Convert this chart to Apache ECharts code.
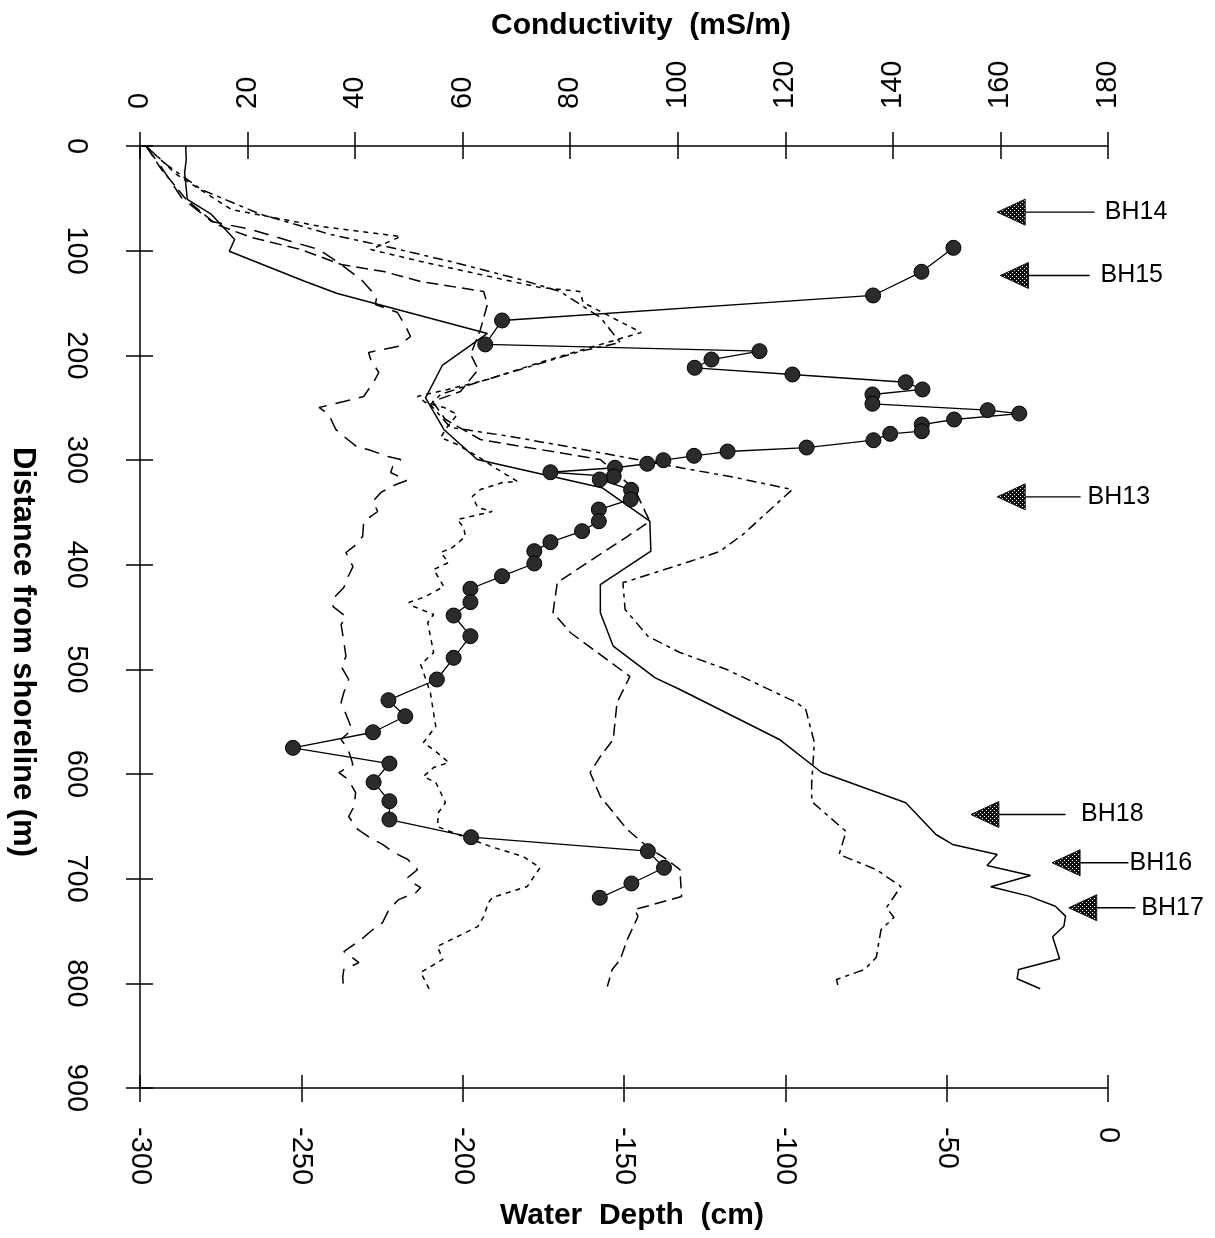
<!DOCTYPE html>
<html>
<head>
<meta charset="utf-8">
<script src="https://cdn.jsdelivr.net/npm/echarts@6/dist/echarts.min.js"></script>
<style>
  html, body { margin: 0; padding: 0; background: #fff; }
  #chart { width: 1215px; height: 1238px; }
</style>
</head>
<body>
<div id="chart"></div>
<script>
// ---- Conductivity profiles along the transect (distance in m, conductivity in mS/m) ----
var solidDist = [0, 12.9, 25.6, 51.1, 65.4, 89.3, 100.5, 129.2, 140.9, 179.1, 209.7, 240.6, 270.8, 299.5, 326.5, 358.5, 387.1, 419.0, 446.0, 477.9, 508.1, 519.3, 528.8, 567.0, 598.3, 627.5, 657.8, 667.3, 677.0, 687.5, 697.0, 707.8, 716.7, 726.3, 735.8, 745.4, 755.5, 776.5, 786.7, 795.6, 805.2];
var solidCond = [8.5, 8.6, 8.3, 8.8, 13.3, 17.6, 16.6, 30.6, 36.7, 64.6, 56.2, 53.1, 56.5, 62.7, 85.9, 94.8, 95.0, 85.6, 85.6, 88.0, 95.8, 100.4, 104.1, 118.9, 126.7, 142.4, 148.0, 151.1, 159.4, 157.5, 165.6, 158.2, 165.3, 170.2, 172.1, 171.8, 169.7, 171.0, 163.4, 163.1, 167.4];

var dashDotDist = [0.5, 17.7, 41.6, 65.4, 84.6, 97.0, 110.3, 127.5, 139.0, 163.8, 187.7, 196.3, 213.5, 227.8, 237.4, 247.0, 268.9, 277.5, 287.1, 296.6, 309.0, 315.7, 328.2, 371.2, 387.4, 397.0, 414.2, 417.1, 442.9, 468.6, 483.9, 500.2, 531.7, 538.4, 569.9, 608.1, 626.3, 654.9, 676.9, 691.3, 707.5, 727.6, 737.1, 748.6, 775.4, 786.8, 796.4, 805.9];
var dashDotCond = [1.2, 4.9, 11.4, 22.5, 35.5, 46.6, 57.7, 70.7, 78.1, 85.6, 89.3, 81.8, 70.7, 61.5, 55.9, 54.0, 57.7, 68.9, 79.4, 89.3, 102.2, 109.7, 121.3, 112.1, 107.8, 102.2, 91.7, 89.8, 90.2, 94.5, 100.4, 109.1, 122.1, 123.8, 125.4, 124.9, 124.9, 131.3, 130.0, 136.9, 141.5, 138.8, 140.2, 137.8, 136.9, 134.7, 129.5, 130.0];

var dashDist = [0.5, 22.5, 51.1, 75.0, 87.4, 98.9, 113.2, 119.9, 129.5, 139.0, 151.4, 175.3, 199.2, 213.5, 234.5, 244.1, 261.3, 280.4, 290.0, 299.5, 328.2, 358.7, 373.1, 417.0, 445.7, 464.8, 506.8, 531.7, 567.0, 583.3, 598.6, 621.5, 653.0, 669.3, 681.7, 691.3, 717.0, 724.7, 729.5, 736.2, 758.2, 777.3, 786.8, 803.1];
var dashCond = [1.2, 4.0, 8.6, 14.2, 20.7, 29.9, 37.4, 45.3, 52.2, 63.9, 64.6, 63.3, 61.5, 62.9, 59.6, 54.4, 56.8, 63.3, 74.4, 85.6, 92.0, 94.8, 90.6, 77.6, 76.8, 80.0, 91.1, 88.7, 88.0, 85.6, 83.7, 85.6, 90.6, 94.3, 98.0, 100.4, 100.7, 95.4, 92.0, 92.6, 90.6, 89.3, 87.8, 86.9];

var dotDist = [0.5, 27.2, 60.7, 76.9, 86.5, 98.9, 110.3, 122.8, 135.2, 139.0, 149.5, 178.2, 191.6, 206.8, 223.1, 232.6, 239.3, 245.1, 249.8, 256.5, 268.0, 278.5, 285.2, 296.6, 309.0, 320.5, 321.5, 328.2, 334.9, 345.4, 349.2, 356.9, 364.5, 373.1, 383.6, 388.4, 397.9, 404.6, 420.9, 430.4, 436.2, 440.0, 447.6, 455.3, 484.0, 495.4, 522.2, 535.5, 554.6, 569.9, 578.5, 589.0, 593.8, 602.4, 608.1, 627.2, 636.8, 650.2, 655.0, 669.3, 678.9, 689.4, 707.5, 718.1, 722.8, 736.2, 745.8, 764.7, 777.1, 789.6, 807.7];
var dotCond = [1.2, 6.8, 17.0, 33.6, 48.5, 42.9, 52.2, 63.3, 74.4, 81.8, 82.4, 93.2, 84.3, 74.4, 64.6, 57.2, 51.6, 53.1, 56.5, 59.0, 57.2, 55.9, 59.0, 62.8, 66.5, 70.2, 67.4, 63.3, 61.8, 62.8, 65.5, 59.0, 60.2, 60.5, 58.1, 55.9, 57.4, 54.6, 56.5, 53.1, 50.0, 50.9, 54.6, 53.5, 54.6, 52.2, 54.0, 54.4, 55.0, 52.7, 55.0, 57.4, 54.6, 52.7, 55.0, 56.8, 55.5, 55.3, 57.7, 65.2, 71.3, 74.4, 72.0, 65.5, 64.8, 63.9, 62.8, 55.3, 56.3, 52.2, 54.0];

var longDashDist = [0.5, 20.5, 49.2, 72.1, 79.8, 91.2, 98.9, 113.2, 127.5, 143.8, 151.4, 159.1, 172.5, 182.0, 191.6, 197.3, 204.0, 216.4, 225.0, 239.3, 244.1, 249.8, 256.5, 270.8, 277.5, 288.0, 289.9, 296.6, 299.5, 306.2, 311.9, 319.6, 323.4, 331.0, 339.6, 349.2, 358.7, 373.1, 382.6, 388.4, 401.8, 411.3, 421.8, 431.4, 440.0, 449.5, 457.2, 473.4, 487.7, 497.3, 509.7, 522.2, 531.7, 547.9, 557.5, 567.0, 576.6, 590.9, 598.6, 605.3, 617.7, 631.1, 640.6, 653.0, 659.7, 667.3, 675.0, 681.7, 691.3, 698.9, 702.7, 708.5, 713.3, 720.0, 729.5, 741.9, 748.6, 758.2, 769.6, 774.4, 780.2, 786.8, 793.5, 808.7];
var longDashCond = [1.2, 4.0, 7.7, 13.3, 20.7, 28.1, 33.3, 37.4, 41.1, 44.0, 43.8, 47.9, 49.4, 50.3, 47.9, 42.5, 42.9, 44.4, 43.5, 41.6, 37.9, 33.3, 35.1, 36.4, 37.9, 40.5, 42.4, 46.1, 48.5, 47.0, 46.6, 49.6, 47.6, 44.8, 43.3, 44.2, 41.6, 41.4, 39.8, 38.3, 39.6, 38.7, 37.9, 36.1, 35.9, 38.3, 37.4, 37.9, 38.3, 37.4, 38.8, 37.9, 37.4, 38.7, 39.4, 37.4, 38.7, 39.6, 37.0, 38.7, 40.1, 39.8, 38.8, 40.5, 42.4, 45.1, 47.2, 49.8, 51.6, 49.8, 50.3, 52.2, 51.3, 48.1, 46.3, 45.1, 43.3, 41.1, 37.9, 39.2, 40.7, 37.9, 37.7, 37.9];

// ---- Water depth at the measuring points (distance in m, depth in cm) ----
var depthDist = [97.3, 120.2, 142.8, 166.7, 189.6, 196.0, 204.0, 211.9, 218.3, 225.7, 232.6, 237.4, 246.3, 252.4, 255.6, 261.3, 266.1, 272.5, 275.0, 281.1, 288.1, 291.9, 296.0, 300.2, 303.6, 307.4, 311.7, 315.8, 318.6, 328.5, 337.7, 347.3, 358.5, 368.0, 378.5, 387.1, 398.9, 411.0, 423.0, 435.8, 448.6, 468.3, 489.0, 509.7, 529.5, 544.8, 560.1, 575.0, 590.0, 607.8, 626.0, 643.5, 660.4, 673.7, 689.6, 704.6, 718.3];
var depthVal = [-47.9, -57.8, -72.8, -187.8, -193.0, -108.0, -122.9, -128.1, -97.8, -62.7, -57.5, -73.0, -73.0, -37.3, -27.5, -47.7, -57.7, -57.7, -67.5, -72.7, -93.4, -117.9, -128.3, -137.8, -142.8, -152.8, -172.8, -153.2, -157.5, -147.8, -147.9, -157.8, -157.8, -163.0, -172.8, -177.8, -177.8, -187.8, -197.6, -197.6, -202.8, -197.6, -202.8, -208.0, -223.0, -217.8, -227.8, -252.6, -222.7, -227.6, -222.7, -222.7, -197.4, -142.6, -137.6, -147.7, -157.5];

// ---- Borehole markers (distance in m; arrow tip, tail and label on the mS/m scale) ----
var boreNames = ['BH14', 'BH15', 'BH13', 'BH18', 'BH16', 'BH17'];
var boreDist = [63.2, 123.7, 335.2, 638.7, 684.8, 727.8];
var boreTip = [159.4, 160.0, 159.4, 154.5, 169.6, 172.7];
var boreTail = [177.5, 176.6, 174.9, 172.1, 183.8, 185.1];
var boreLabel = [179.4, 178.6, 176.2, 175.0, 184.0, 186.2];

// ---- Axis ticks ----
var condTicks = { min: 0, max: 180, step: 20 };
var depthTicks = { min: -300, max: 0, step: 50 };
var distTicks = { min: 0, max: 900, step: 100 };

function pairs(xs, ys) {
  return xs.map(function (x, i) { return [x, ys[i]]; });
}

// stippled fill for the arrowheads
function stipple() {
  var c = document.createElement('canvas');
  c.width = 4; c.height = 4;
  var g = c.getContext('2d');
  g.fillStyle = '#111';
  g.fillRect(0, 0, 4, 4);
  g.fillStyle = '#fff';
  g.fillRect(0, 0, 1, 1);
  g.fillRect(2, 2, 1, 1);
  return { image: c, repeat: 'repeat' };
}
var stippleFill = stipple();

var FONT = '"Liberation Sans", Arial, Helvetica, sans-serif';
var black = '#000';
var tickLabel = { fontFamily: FONT, fontSize: 29, color: black, rotate: -90 };

function mainAxis(extra) {
  return Object.assign({
    type: 'value',
    gridIndex: 0,
    axisLine: { show: true, onZero: false, lineStyle: { color: black, width: 1.5 } },
    axisTick: { show: true, length: 14, lineStyle: { color: black, width: 1.5 } },
    splitLine: { show: false }
  }, extra);
}
function innerTickAxis(extra) {
  return Object.assign({
    type: 'value',
    gridIndex: 1,
    axisLine: { show: false, onZero: false },
    axisTick: { show: true, inside: true, length: 13, lineStyle: { color: black, width: 1.5 } },
    axisLabel: { show: false },
    splitLine: { show: false }
  }, extra);
}

var gridBox = { left: 140, right: 107, top: 146, bottom: 150 };

var chart = echarts.init(document.getElementById('chart'), null, { renderer: 'canvas' });

chart.setOption({
  animation: false,
  backgroundColor: '#fff',
  grid: [Object.assign({}, gridBox), Object.assign({}, gridBox)],
  xAxis: [
    mainAxis({ position: 'top', min: condTicks.min, max: condTicks.max, interval: condTicks.step,
      axisLabel: Object.assign({ margin: 37 }, tickLabel) }),
    mainAxis({ position: 'bottom', min: depthTicks.min, max: depthTicks.max, interval: depthTicks.step,
      axisLabel: Object.assign({ margin: 39 }, tickLabel) }),
    innerTickAxis({ position: 'top', min: condTicks.min, max: condTicks.max, interval: condTicks.step }),
    innerTickAxis({ position: 'bottom', min: depthTicks.min, max: depthTicks.max, interval: depthTicks.step })
  ],
  yAxis: [
    mainAxis({ position: 'left', inverse: true, min: distTicks.min, max: distTicks.max, interval: distTicks.step,
      axisLabel: Object.assign({ margin: 50 }, tickLabel) }),
    innerTickAxis({ position: 'left', inverse: true, min: distTicks.min, max: distTicks.max, interval: distTicks.step })
  ],
  graphic: [
    { type: 'text', x: 641, y: 26, style: { text: 'Conductivity  (mS/m)', font: 'bold 30px ' + FONT, fill: black, align: 'center', verticalAlign: 'middle' } },
    { type: 'text', x: 632, y: 1216, style: { text: 'Water  Depth  (cm)', font: 'bold 30px ' + FONT, fill: black, align: 'center', verticalAlign: 'middle' } },
    { type: 'text', x: 23, y: 652, rotation: -Math.PI / 2, style: { text: 'Distance from shoreline (m)', font: 'bold 31px ' + FONT, fill: black, align: 'center', verticalAlign: 'middle' } }
  ],
  series: [
    { type: 'line', xAxisIndex: 0, yAxisIndex: 0, data: pairs(solidCond, solidDist), symbol: 'none',
      lineStyle: { color: black, width: 1.5, type: 'solid' } },
    { type: 'line', xAxisIndex: 0, yAxisIndex: 0, data: pairs(dashDotCond, dashDotDist), symbol: 'none',
      lineStyle: { color: black, width: 1.5, type: [10, 5, 4, 5] } },
    { type: 'line', xAxisIndex: 0, yAxisIndex: 0, data: pairs(dashCond, dashDist), symbol: 'none',
      lineStyle: { color: black, width: 1.5, type: [12, 6] } },
    { type: 'line', xAxisIndex: 0, yAxisIndex: 0, data: pairs(dotCond, dotDist), symbol: 'none',
      lineStyle: { color: black, width: 1.5, type: [5, 5] } },
    { type: 'line', xAxisIndex: 0, yAxisIndex: 0, data: pairs(longDashCond, longDashDist), symbol: 'none',
      lineStyle: { color: black, width: 1.5, type: [15, 9] } },
    { type: 'line', xAxisIndex: 1, yAxisIndex: 0, data: pairs(depthVal, depthDist),
      symbol: 'circle', symbolSize: 15, showSymbol: true, z: 5,
      lineStyle: { color: black, width: 1.3 },
      itemStyle: { color: '#2b2b2b', borderColor: '#000', borderWidth: 1 } },
    {
      type: 'custom', xAxisIndex: 0, yAxisIndex: 0, clip: false, z: 6,
      data: boreNames.map(function (n, i) { return [boreTip[i], boreDist[i], boreTail[i], boreLabel[i]]; }),
      encode: { x: [0, 2, 3], y: 1 },
      renderItem: function (params, api) {
        var i = params.dataIndex;
        var tip = api.coord([api.value(0), api.value(1)]);
        var tail = api.coord([api.value(2), api.value(1)]);
        var lab = api.coord([api.value(3), api.value(1)]);
        var w = 28, h = 13;
        return {
          type: 'group',
          children: [
            { type: 'polygon', shape: { points: [[tip[0], tip[1]], [tip[0] + w, tip[1] - h], [tip[0] + w, tip[1] + h]] },
              style: { fill: stippleFill, stroke: '#111', lineWidth: 1 } },
            { type: 'line', shape: { x1: tip[0] + w, y1: tip[1], x2: tail[0], y2: tail[1] },
              style: { stroke: black, lineWidth: 1.4 } },
            { type: 'text', x: lab[0], y: lab[1],
              style: { text: boreNames[i], font: '25px ' + FONT, fill: black, align: 'left', verticalAlign: 'middle' } }
          ]
        };
      }
    }
  ]
});
</script>
</body>
</html>
